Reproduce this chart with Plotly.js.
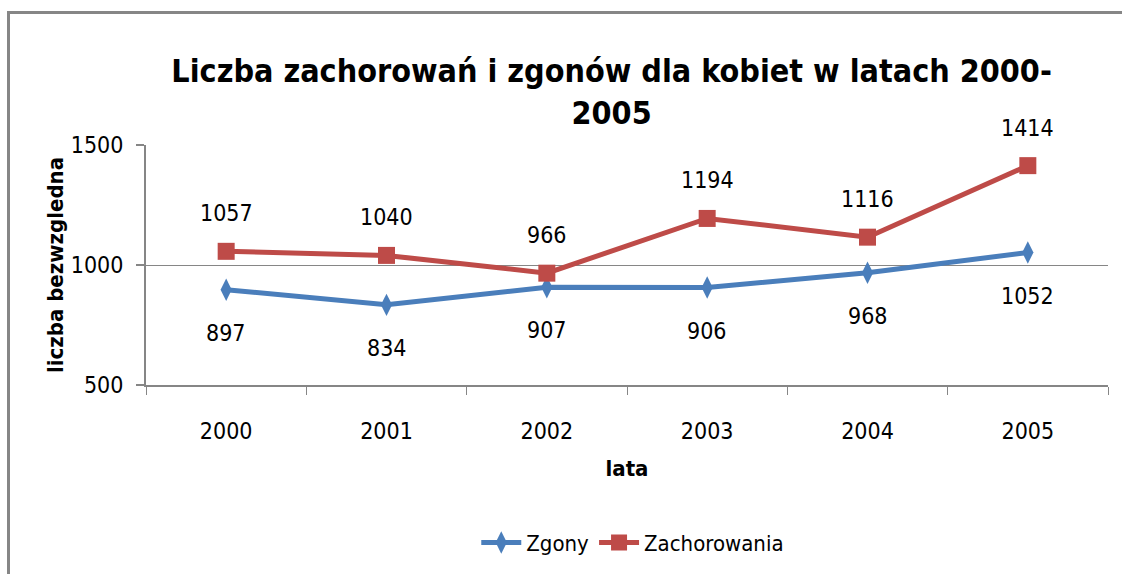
<!DOCTYPE html>
<html>
<head>
<meta charset="utf-8">
<script src="https://cdn.plot.ly/plotly-3.0.1.min.js"></script>
<style>
html,body{margin:0;padding:0;background:#fff;overflow:hidden;}
#wrap{position:relative;width:1122px;height:574px;}
#chart{width:1122px;height:574px;}
#frame{position:absolute;left:7px;top:11px;width:1200px;height:700px;border-left:3px solid #868686;border-top:3px solid #868686;pointer-events:none;}
</style>
</head>
<body>
<div id="wrap"><div id="chart"></div><div id="frame"></div></div>
<script>
const years = ['2000','2001','2002','2003','2004','2005'];
const zgony = [897, 834, 907, 906, 968, 1052];
const zachorowania = [1057, 1040, 966, 1194, 1116, 1414];
const yTicks = [500, 1000, 1500];

const FONT = '"DejaVu Sans Condensed", "Liberation Sans Narrow", "Open Sans", sans-serif';

const traces = [
  {
    x: years, y: zgony, name: 'Zgony', type: 'scatter', mode: 'lines+markers',
    line: {color: '#4A7EBB', width: 5},
    marker: {symbol: 'diamond-tall', size: 16, color: '#4A7EBB'}
  },
  {
    x: years, y: zachorowania, name: 'Zachorowania', type: 'scatter', mode: 'lines+markers',
    line: {color: '#BE4B48', width: 5},
    marker: {symbol: 'square', size: 17, color: '#BE4B48'}
  }
];

const annotations = [];
years.forEach((yr, i) => {
  annotations.push({xref: 'x', yref: 'y', x: i, y: zachorowania[i], text: String(zachorowania[i]), showarrow: false,
    yshift: 38, font: {family: FONT, size: 23, color: '#000'}});
  annotations.push({xref: 'x', yref: 'y', x: i, y: zgony[i], text: String(zgony[i]), showarrow: false,
    yshift: -43, font: {family: FONT, size: 23, color: '#000'}});
});

const layout = {
  width: 1122, height: 574,
  margin: {l: 146, r: 14, t: 145, b: 188},
  paper_bgcolor: '#fff', plot_bgcolor: '#fff',
  font: {family: FONT, size: 23, color: '#000'},
  title: {
    text: 'Liczba zachorowań i zgonów dla kobiet w latach 2000-<br>2005',
    font: {family: FONT, size: 32, color: '#000', weight: 'bold'},
    x: 0.484, xref: 'paper', xanchor: 'center',
    y: 1 - 82/574, yref: 'container', yanchor: 'top'
  },
  xaxis: {
    type: 'category', range: [-0.5, 5.5],
    showline: true, linecolor: '#868686', linewidth: 2,
    ticks: 'outside', tickson: 'boundaries', ticklen: 8, tickcolor: '#868686', tickwidth: 1,
    ticklabelstandoff: 24,
    showgrid: false, zeroline: false,
    tickfont: {family: FONT, size: 23, color: '#000'},
    title: {text: 'lata', font: {family: FONT, size: 22, color: '#000', weight: 'bold'}, standoff: 18}
  },
  yaxis: {
    range: [500, 1500], tickvals: yTicks, ticktext: yTicks.map(String),
    showline: true, linecolor: '#868686', linewidth: 2,
    ticks: 'outside', ticklen: 8, tickcolor: '#868686', tickwidth: 2,
    ticklabelstandoff: 8,
    showgrid: true, gridcolor: '#868686', gridwidth: 1, zeroline: false,
    tickfont: {family: FONT, size: 23, color: '#000'},
    title: {text: 'liczba bezwzgledna', font: {family: FONT, size: 22, color: '#000', weight: 'bold'}, standoff: 1}
  },
  showlegend: true,
  legend: {
    orientation: 'h', x: 0.506, xanchor: 'center', y: -0.65, yanchor: 'middle',
    font: {family: FONT, size: 22, color: '#000'}, itemwidth: 40
  },
  annotations: annotations
};

Plotly.newPlot('chart', traces, layout, {displayModeBar: false, staticPlot: true});
</script>
</body>
</html>
